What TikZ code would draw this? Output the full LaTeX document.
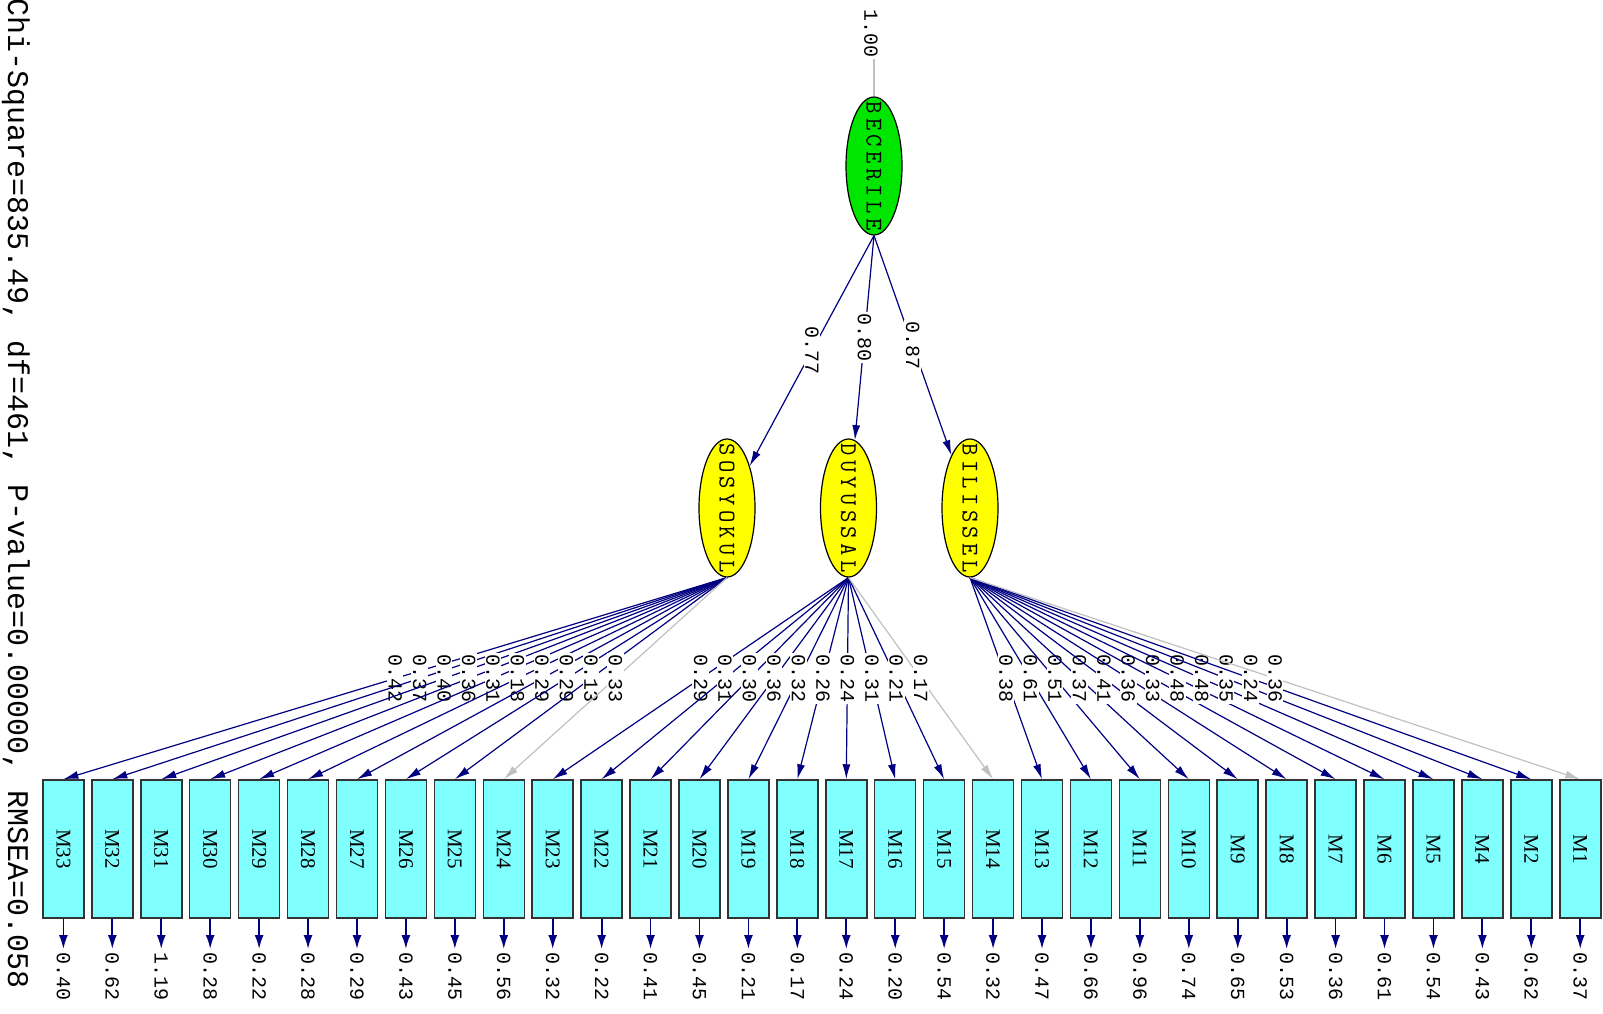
\documentclass[tikz,border=0pt]{standalone}
\usepackage{fontspec}
\setmainfont{Liberation Serif}
\setmonofont{Liberation Mono}
\newfontfamily\latentfont[LetterSpace=18]{Latin Modern Mono}
\usetikzlibrary{arrows.meta,shapes.geometric}
\definecolor{higreen}{RGB}{0,230,0}
\definecolor{loyellow}{RGB}{255,255,0}
\definecolor{obscyan}{RGB}{128,255,255}
\definecolor{pathnavy}{RGB}{0,0,128}
\definecolor{nsgray}{RGB}{192,192,192}
\tikzset{
  latent/.style={ellipse,draw=black,line width=1.2pt,inner sep=0pt,
                 minimum width=56pt,minimum height=138pt,
                 font=\fontsize{24}{24}\latentfont},
  observed/.style={rectangle,draw=black!80,line width=1.5pt,fill=obscyan,
                   inner sep=0pt,minimum width=41pt,minimum height=138pt,
                   font=\fontsize{21}{21}\selectfont},
  coef/.style={fill=white,text=black,inner sep=1.5pt,rotate=-90,
               font=\fontsize{20}{20}\ttfamily},
  load/.style={-{Latex[length=15pt,width=8pt]},pathnavy,line width=1.2pt},
  loadns/.style={load,nsgray},
}

\begin{document}
\begin{tikzpicture}[x=1pt,y=-1pt,
    errlab/.style={coef,fill=none,anchor=west,inner sep=3pt},
    errpath/.style={-{Latex[length=14pt,width=9pt]},pathnavy,line width=1.8pt},
    vname/.style={},
  ]
  \useasboundingbox (0,0) rectangle (1603,1014);

  % fit statistics
  \node[rotate=-90,anchor=west,inner sep=0pt,
        font=\fontsize{30}{30}\ttfamily] (fitstats) at (16,-2)
    {Chi-Square=835.49, df=461, P-value=0.00000, RMSEA=0.058};

  % latent variables
  \node[latent,fill=higreen]  (bec) at (874,166)   {\rotatebox{-90}{\makebox[0pt]{BECERILE}}};
  \node[latent,fill=loyellow] (sos) at (727,508)   {\rotatebox{-90}{\makebox[0pt]{SOSYOKUL}}};
  \node[latent,fill=loyellow] (duy) at (848.5,508) {\rotatebox{-90}{\makebox[0pt]{DUYUSSAL}}};
  \node[latent,fill=loyellow] (bil) at (970,508)   {\rotatebox{-90}{\makebox[0pt]{BILISSEL}}};

  \node[coef,fill=none,anchor=west] (becvar) at (871,8) {1.00};
  \draw[nsgray,line width=1.2pt] (bec.north) -- (bec.north |- becvar.east);

  % second order
  \draw[load] (bec.south) -- node[coef]{0.77} (sos);
  \draw[load] (bec.south) -- node[coef]{0.80} (duy);
  \draw[load] (bec.south) -- node[coef]{0.87} (bil);

  % indicators and error variances
  \foreach \m/\e [count=\i from 0] in {33/0.40,32/0.62,31/1.19,30/0.28,
      29/0.22,28/0.28,27/0.29,26/0.43,25/0.45,24/0.56,23/0.32,22/0.22,
      21/0.41,20/0.45,19/0.21,18/0.17,17/0.24,16/0.20,15/0.54,14/0.32,
      13/0.47,12/0.66,11/0.96,10/0.74,9/0.65,8/0.53,7/0.36,6/0.61,
      5/0.54,4/0.43,2/0.62,1/0.37}{
    \node[observed] (m\m) at ({63.4+48.93*\i},849) {\rotatebox{-90}{M\m}};
    \node[errlab] (e\m) at ({63.4+48.93*\i},949) {\e};
    \draw[errpath] (m\m.south) -- (e\m.west);
  }

  % loadings
  \foreach \m/\l/\s in {33/0.42/load,32/0.37/load,31/0.40/load,30/0.36/load,
      29/0.31/load,28/0.18/load,27/0.29/load,26/0.29/load,25/0.13/load,
      24/0.33/loadns}
    \draw[\s] (sos.south) -- node[coef]{\l} (m\m.north);
  \foreach \m/\l/\s in {23/0.29/load,22/0.31/load,21/0.30/load,20/0.36/load,
      19/0.32/load,18/0.26/load,17/0.24/load,16/0.31/load,15/0.21/load,
      14/0.17/loadns}
    \draw[\s] (duy.south) -- node[coef]{\l} (m\m.north);
  \foreach \m/\l/\s in {13/0.38/load,12/0.61/load,11/0.51/load,10/0.37/load,
      9/0.41/load,8/0.36/load,7/0.33/load,6/0.48/load,5/0.48/load,
      4/0.35/load,2/0.24/load,1/0.36/loadns}
    \draw[\s] (bil.south) -- node[coef]{\l} (m\m.north);

\end{tikzpicture}
\end{document}
